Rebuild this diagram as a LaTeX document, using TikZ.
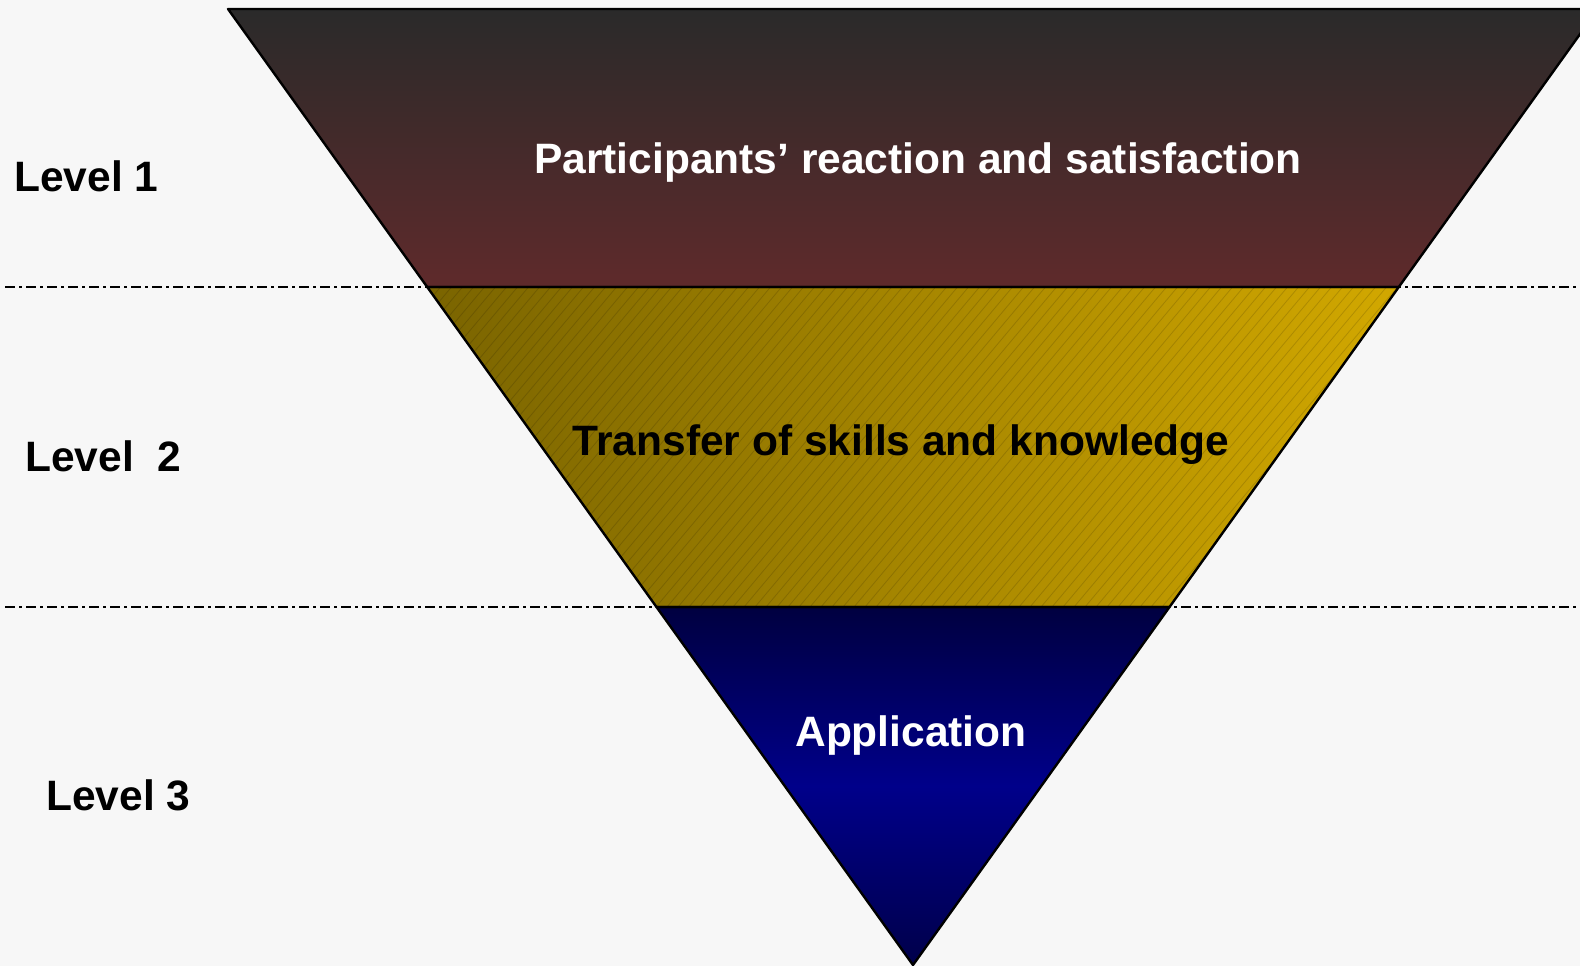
\documentclass[tikz,border=0pt]{standalone}
\usepackage{fontspec}
\setmainfont{Liberation Sans}

\definecolor{pagegray}{HTML}{F7F7F7}
\definecolor{reacttop}{HTML}{2A2A2A}
\definecolor{reactbot}{HTML}{5F2A2B}
\definecolor{transleft}{HTML}{7A6400}
\definecolor{transright}{HTML}{D2A800}
\definecolor{apptop}{HTML}{000040}
\definecolor{appmid}{HTML}{00008A}
\definecolor{appbot}{HTML}{00004A}

\tikzset{
  lvltext/.style={font=\fontsize{42.5}{48}\selectfont\bfseries, inner sep=0pt},
  levelline/.style={line width=2.6pt, dash pattern=on 10pt off 4pt on 3pt off 4pt},
  bandedge/.style={draw=black, line width=2.4pt, line join=round},
  hatchline/.style={draw=black, line width=0.8pt, draw opacity=0.14},
}

\newcommand{\Band}[3]{% top y, bottom y, style
  \path[#3] ({\ApexX-\Slope*(\ApexY-(#1))},#1) -- ({\ApexX+\Slope*(\ApexY-(#1))},#1)
    -- ({\ApexX+\Slope*(\ApexY-(#2))},#2) -- ({\ApexX-\Slope*(\ApexY-(#2))},#2) -- cycle;
}

\begin{document}
\begin{tikzpicture}[x=1pt, y=-1pt]
  \pgfmathsetmacro{\ApexX}{913};
  \pgfmathsetmacro{\ApexY}{965};
  \pgfmathsetmacro{\Slope}{0.7165};
  \pgfmathsetmacro{\TopY}{9};
  \pgfmathsetmacro{\CutA}{287};
  \pgfmathsetmacro{\CutB}{607};
  \pgfmathsetmacro{\HatchRun}{(\CutB-\CutA)/tan(50)};
  %
  \fill[pagegray] (0,0) rectangle (1580,966);
  \useasboundingbox (0,0) rectangle (1580,966);
  \clip (0,0) rectangle (1580,966);
  %
  \draw[levelline] (5,\CutA) -- (1580,\CutA);
  \draw[levelline] (5,\CutB) -- (1580,\CutB);
  %
  \Band{\TopY}{\CutA}{top color=reacttop, bottom color=reactbot}
  \Band{\CutA}{\CutB}{left color=transleft, right color=transright}
  \Band{\CutB}{\ApexY}{top color=apptop, bottom color=appbot, middle color=appmid}
  %
  \begin{scope}
    \Band{\CutA}{\CutB}{clip}
    \foreach \hx in {150,161,...,1420}
      \draw[hatchline] (\hx,\CutB) -- ++(\HatchRun,\CutA-\CutB);
  \end{scope}
  %
  \Band{\TopY}{\CutA}{bandedge}
  \Band{\CutA}{\CutB}{bandedge}
  \Band{\CutB}{\ApexY}{bandedge}
  %
  \node[lvltext, anchor=base west] (lvlone) at (14,191) {Level 1};
  \node[lvltext, anchor=base west] (lvltwo) at (25,471) {Level\ \ 2};
  \node[lvltext, anchor=base west] (lvlthree) at (46,810) {Level 3};
  %
  \node[lvltext, anchor=base, text=white] (reaction) at (918,173) {Participants’ reaction and satisfaction};
  \node[lvltext, anchor=base] (transfer) at (901,455) {Transfer of skills and knowledge};
  \node[lvltext, anchor=base, text=white] (application) at (911,746) {Application};
\end{tikzpicture}
\end{document}
